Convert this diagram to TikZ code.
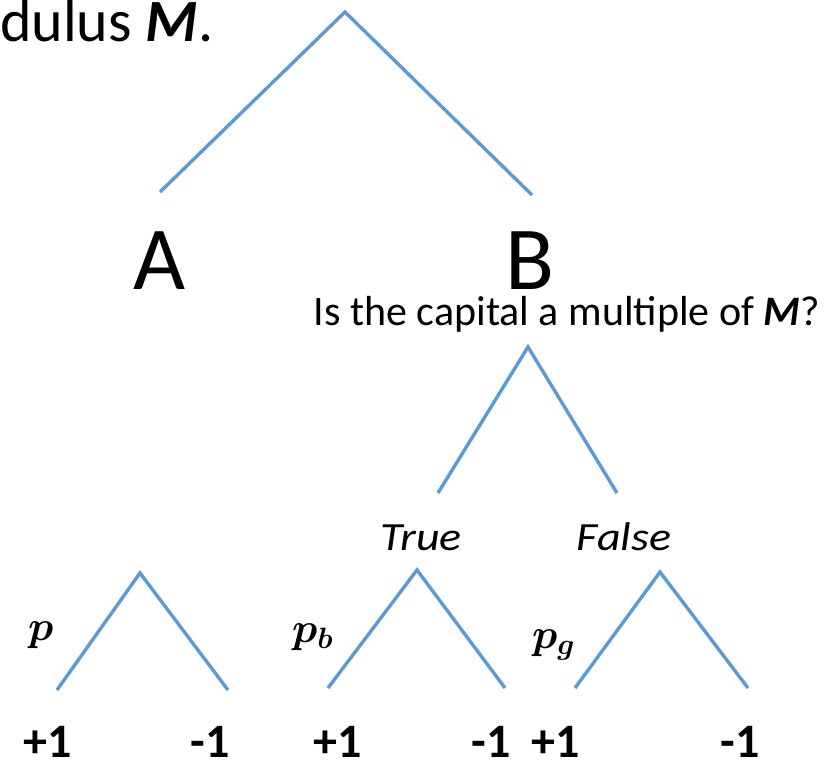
\RequirePackage{fix-cm}
\documentclass[tikz,border=0pt]{standalone}
\usepackage{fontspec}
\usepackage{amsmath,bm}
\setmainfont{Carlito}
\definecolor{lineblue}{RGB}{91,155,213}
\begin{document}
\begin{tikzpicture}[x=1pt,y=-1pt,
  edge/.style={draw=lineblue,line width=3.4pt},
  lbl/.style={inner sep=0pt,anchor=center},
  val/.style={inner sep=0pt,anchor=base,font=\fontsize{48}{54}\selectfont\bfseries},
  tf/.style={inner sep=0pt,anchor=base,font=\fontsize{40}{46}\selectfont\itshape},
  prob/.style={inner sep=0pt,anchor=base,font=\fontsize{42}{48}\selectfont}]
\useasboundingbox (0,0) rectangle (833,762);
% top tree
\coordinate (r) at (345,12);
\coordinate (A0) at (160,192);
\coordinate (B0) at (532,195);
\draw[edge] (A0) -- (r) -- (B0);
\node[lbl,anchor=base west] (title) at (0,42) {\fontsize{60}{64}\selectfont dulus \textbf{\textit{M}}.};
\node[lbl,anchor=base] (A) at (160,290) {\fontsize{90}{96}\selectfont A};
\node[lbl,anchor=base] (B) at (530,290) {\fontsize{90}{96}\selectfont B};
\node[lbl,anchor=base] (q) at (567,325) {\fontsize{42}{48}\selectfont Is the capital a multiple of \textbf{\textit{M}}?};
% middle tree
\coordinate (m) at (528,347);
\coordinate (mT) at (438,493);
\coordinate (mF) at (617,493);
\draw[edge] (mT) -- (m) -- (mF);
\node[tf] (T) at (421,550) {\scalebox{1.15}[1]{True}};
\node[tf] (F) at (624,550) {\scalebox{1.15}[1]{False}};
% bottom trees
\coordinate (a1) at (140,573);
\coordinate (l1) at (57,690);
\coordinate (r1) at (228,690);
\draw[edge] (l1) -- (a1) -- (r1);
\coordinate (a2) at (417,570);
\coordinate (l2) at (328,688);
\coordinate (r2) at (505,688);
\draw[edge] (l2) -- (a2) -- (r2);
\coordinate (a3) at (660,572);
\coordinate (l3) at (575,688);
\coordinate (r3) at (748,688);
\draw[edge] (l3) -- (a3) -- (r3);
\node[prob,anchor=base west] (p1) at (28,640) {$\bm{p}$};
\node[prob,anchor=base west] (p2) at (292,642) {$\bm{p_b}$};
\node[prob,anchor=base west] (p3) at (532,648) {$\bm{p_g}$};
\node[val] (v1) at (48,757) {+1};
\node[val] (v2) at (210,757) {-1};
\node[val] (v3) at (338,757) {+1};
\node[val] (v4) at (491,757) {-1};
\node[val] (v5) at (556,757) {+1};
\node[val] (v6) at (740,757) {-1};
\end{tikzpicture}
\end{document}
